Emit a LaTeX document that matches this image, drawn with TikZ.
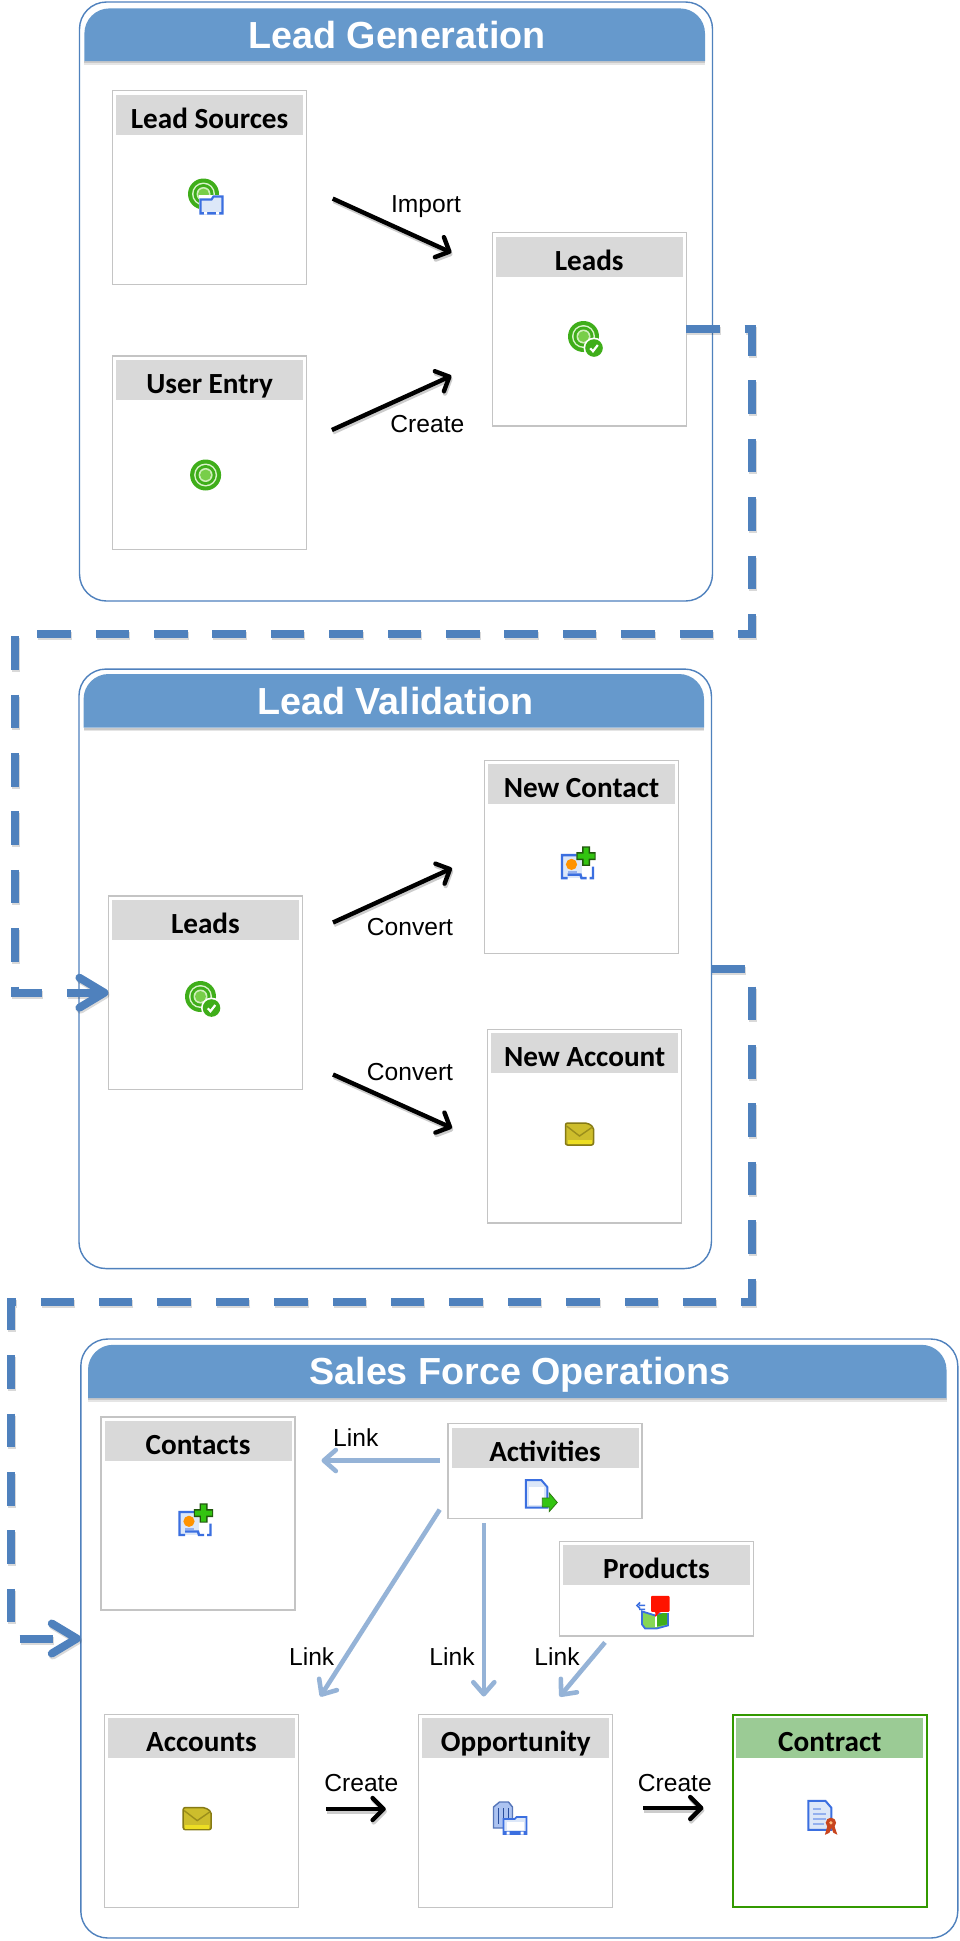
\documentclass[tikz,border=0pt]{standalone}
\usepackage{fontspec}
\setmainfont{Liberation Sans}
\newfontfamily\boxfont{Carlito}
\usetikzlibrary{arrows.meta}
\definecolor{flowblue}{HTML}{4F81BD}
\definecolor{hdrblue}{HTML}{6699CC}
\definecolor{linkblue}{HTML}{95B3D7}
\definecolor{boxgray}{HTML}{C4C4C4}
\definecolor{headgray}{HTML}{D9D9D9}
\definecolor{contractgreen}{HTML}{339900}
\definecolor{headgreen}{HTML}{9BCB95}
\definecolor{ringgreen}{HTML}{3FAE1A}
\definecolor{ringlight}{HTML}{86D655}
\definecolor{brightgreen}{HTML}{33C411}
\definecolor{iconblue}{HTML}{3B6FE0}
\definecolor{iconpale}{HTML}{DCE7F8}
\definecolor{caseyellow}{HTML}{CDBD2C}
\definecolor{casedark}{HTML}{867A14}
\definecolor{ribbonred}{HTML}{C8451E}
\tikzset{
  panelbox/.style={draw=flowblue,line width=1.4pt,fill=white,rounded corners=27pt,inner sep=0pt,outer sep=0pt},
  titletext/.style={text=white,font=\fontsize{37.7}{40}\selectfont\bfseries,inner sep=0pt,text height=27pt,text depth=0pt},
  frame/.style={draw=boxgray,line width=1.3pt,fill=white,inner sep=0pt,outer sep=0pt},
  greenframe/.style={frame,draw=contractgreen,line width=1.8pt},
  headbox/.style={fill=headgray,inner sep=0pt,outer sep=0pt,minimum width=187pt,minimum height=40pt,text=black,text height=27pt,text depth=0pt,font=\boxfont\fontsize{29.2}{30}\selectfont\bfseries},
  greenhead/.style={headbox,fill=headgreen},
  lbl/.style={font=\fontsize{24.6}{26}\selectfont,text=black,inner sep=0pt},
  blackarrow/.style={draw=black,line width=4.4pt,-{Straight Barb[length=11pt,width=22pt,round]},
    preaction={draw=black,opacity=.2,line width=4.4pt,-{Straight Barb[length=11pt,width=22pt,round]},transform canvas={xshift=1pt,yshift=-2.4pt}}},
  linkarrow/.style={draw=linkblue,line width=4.6pt,-{Straight Barb[length=12pt,width=21pt,round]}},
  flowline/.style={draw=flowblue,line width=8pt,dash pattern=on 33.5pt off 24.9pt,miter limit=10,-{Straight Barb[length=25pt,width=30pt,round]},
    preaction={draw=black,opacity=.15,line width=8pt,dash pattern=on 33.5pt off 24.9pt,transform canvas={xshift=1pt,yshift=-2pt}}},
  icontarget/.pic={
    \fill[ringgreen] (0,0) circle (15.5);
    \fill[white!70!ringlight] (0,0) circle (11.5);
    \fill[ringgreen] (0,0) circle (10);
    \fill[white!60!ringlight] (0,0) circle (7);
    \fill[ringlight!80!ringgreen] (0,0) circle (5.5);
  },
  iconfolder/.pic={
    \fill[white] (-13,-10) rectangle (13,11);
    \filldraw[fill=iconpale,draw=iconblue,line width=2.2pt] (-11,-5) -- (-11,9) -- (11,9) -- (11,-8) -- (2,-8) -- (0,-5) -- cycle;
    \fill[iconblue] (-11,7) rectangle (11,9.6);
    \fill[white] (-7.5,7.5) rectangle (-4.5,10) (4.5,7.5) rectangle (7.5,10);
  },
  iconbadge/.pic={
    \fill[white] (0,0) circle (10.5);
    \fill[ringgreen] (0,0) circle (8.8);
    \draw[white,line width=2.2pt] (-3.8,0.3) -- (-1,3.2) -- (3.8,-3);
  },
  iconcontact/.pic={
    \fill[iconpale] (-16.5,-7.5) rectangle (3,15.5);
    \draw[iconblue,line width=2.4pt] (-2,-7.5) -- (-16.5,-7.5) -- (-16.5,15.5) -- (-11,15.5) (-11,12) -- (2,12) -- (3,15.5) -- (8,15.5) (11,15.5) -- (14.5,15.5) -- (14.5,4);
    \fill[orange!85!yellow] (-7,1.8) circle (5.6);
    \fill[iconblue!55!white] (-11,8) rectangle (-2,10.5);
    \fill[ringgreen!50!black] (3.5,-16.2) rectangle (11.5,3.2) (-2.2,-10.5) rectangle (17.2,-2.5);
    \fill[brightgreen] (5,-15) rectangle (10,2) (-1,-9) rectangle (16,-4);
  },
  iconcase/.pic={
    \filldraw[fill=caseyellow,draw=casedark,line width=1.5pt,rounded corners=2pt] (-14,-11) -- (8,-11) -- (14,-7) -- (14,11) -- (-14,11) -- cycle;
    \draw[casedark!70!caseyellow,line width=1.4pt] (-13,-8) -- (0,2) -- (13,-7);
    \fill[yellow!60!caseyellow] (-12,6) rectangle (12,10);
  },
  icondoc/.pic={
    \filldraw[fill=iconpale,draw=iconblue,line width=2pt] (-15.5,-15) -- (0,-15) -- (6,-8) -- (6,12.5) -- (-15.5,12.5) -- cycle;
    \fill[white] (-12.5,-8) rectangle (3,10);
    \filldraw[fill=brightgreen,draw=ringgreen!70!black,line width=.8pt] (1,3) -- (8,3) -- (8,-2) -- (16,7.5) -- (8,16.5) -- (8,12) -- (1,12) -- cycle;
  },
  iconproduct/.pic={
    \draw[iconblue,line width=1.6pt] (-9,-7) -- (-15,-7) (-15,-3) -- (-9,-3) (-14,-10) -- (-17,-7) -- (-14,-4);
    \filldraw[fill=ringlight,draw=iconblue,line width=1.8pt] (-12,-1) -- (1,3) -- (14,-1) -- (14,13) -- (3,16) -- (-9,16) -- (-12,12) -- cycle;
    \fill[ringgreen] (3,3) -- (13,-1) -- (13,12) -- (3,14) -- cycle;
    \fill[white] (1,-1) rectangle (3,15);
    \fill[white] (-4,-2) -- (15,-2) -- (15,1) -- (-4,1) -- cycle;
    \fill[red!85!orange,rounded corners=1pt] (-3,-16.5) -- (15.5,-16.5) -- (15.5,-0.5) -- (6,-0.5) -- (1,5) -- (1.5,-0.5) -- (-3,-0.5) -- cycle;
  },
  iconbuilding/.pic={
    \filldraw[fill=iconpale!70!iconblue,draw=iconblue!60!gray,line width=1.4pt] (-16,-11) -- (-10,-16) -- (-1,-16) -- (3,-11) -- (3,10) -- (-16,10) -- cycle;
    \draw[iconblue!70!black,line width=1.4pt] (-11,-10) -- (-11,6) (-6,-10) -- (-6,6) (-1,-10) -- (-1,2);
    \filldraw[fill=iconpale,draw=iconblue,line width=1.8pt] (-6,1) -- (-6,16) -- (17,16) -- (17,-1) -- (7,-1) -- (5,1) -- cycle;
    \fill[white] (-3,4) rectangle (14,12);
    \fill[iconblue] (-6,13) rectangle (17,16);
    \fill[white] (-3,13.5) rectangle (0,16.5) (11,13.5) rectangle (14,16.5);
  },
  iconcontract/.pic={
    \filldraw[fill=iconpale,draw=iconblue,line width=2pt] (-14,-17) -- (3,-17) -- (9,-10) -- (9,12) -- (-14,12) -- cycle;
    \draw[iconblue!55!white,line width=2pt] (-9,-9) -- (-1,-9) (-9,-4) -- (4,-4) (-9,1) -- (4,1) (-9,6) -- (2,6);
    \fill[ribbonred] (8.5,5) circle (5.2);
    \fill[ribbonred] (5,8) -- (2.5,17) -- (7,15) -- (9,10) -- (11,15) -- (15,17) -- (12,8) -- cycle;
    \fill[orange!50!white] (8.5,5) circle (1.8);
  },
}
\newcommand{\headerbar}[4]{%
  \fill[black,opacity=.10] (#1,#4+3.5) rectangle (#3,#4);
  \fill[black,opacity=.12] (#1,#4+2) rectangle (#3,#4);
  \fill[hdrblue] (#1,#4) [rounded corners=25pt] -- (#1,#2) -- (#3,#2) [sharp corners] -- (#3,#4) -- cycle;
}
\begin{document}
\begin{tikzpicture}[x=1pt,y=-1pt]
\useasboundingbox (0,0) rectangle (960,1941);
\fill[white] (0,0) rectangle (960,1941);

% panels
\node[panelbox,minimum width=633pt,minimum height=599pt] (panelA) at (396,301.5) {};
\headerbar{84.4}{8.4}{705}{61}
\node[titletext] (titleA) at (397,35) {Lead Generation};

\node[panelbox,minimum width=632.5pt,minimum height=599.5pt] (panelB) at (395.2,968.8) {};
\headerbar{83.6}{674}{704}{727.6}
\node[titletext] (titleB) at (395.5,701) {Lead Validation};

\node[panelbox,minimum width=877pt,minimum height=599pt] (panelC) at (519.3,1638.5) {};
\headerbar{88}{1344.8}{946.5}{1398}
\node[titletext] (titleC) at (520,1371) {Sales Force Operations};

% Lead Generation boxes
\node[frame,minimum width=193.6pt,minimum height=193.6pt] (sources) at (209.4,187.5) {};
\node[headbox] (sourcesH) at (209.6,115) {Lead Sources};
\node[frame,minimum width=193.6pt,minimum height=193.6pt] (entry) at (209.4,452.8) {};
\node[headbox] (entryH) at (209.6,380) {User Entry};
\node[frame,minimum width=194pt,minimum height=193.3pt] (leadsA) at (589.2,329.4) {};
\node[headbox] (leadsAH) at (589.2,256.6) {Leads};

% Lead Validation boxes
\node[frame,minimum width=194pt,minimum height=193.5pt] (leadsB) at (205.4,992.7) {};
\node[headbox] (leadsBH) at (205.4,920) {Leads};
\node[frame,minimum width=194pt,minimum height=193pt] (contactNew) at (581.5,857) {};
\node[headbox] (contactNewH) at (581.5,784) {New Contact};
\node[frame,minimum width=194pt,minimum height=193.4pt] (accountNew) at (584.7,1126.3) {};
\node[headbox] (accountNewH) at (584.7,1053.4) {New Account};

% Sales Force boxes
\node[frame,minimum width=194pt,minimum height=193pt] (contacts) at (198,1513.5) {};
\node[headbox] (contactsH) at (198,1440.7) {Contacts};
\node[frame,minimum width=194pt,minimum height=95pt] (activities) at (545,1471) {};
\node[headbox] (activitiesH) at (545,1447.6) {Activities};
\node[frame,minimum width=194pt,minimum height=94.5pt] (products) at (656.5,1588.7) {};
\node[headbox] (productsH) at (656.5,1565) {Products};
\node[frame,minimum width=194pt,minimum height=192.6pt] (accounts) at (201.5,1811) {};
\node[headbox] (accountsH) at (201.5,1738.2) {Accounts};
\node[frame,minimum width=194pt,minimum height=192.6pt] (opportunity) at (515.8,1811) {};
\node[headbox] (opportunityH) at (515.8,1738.2) {Opportunity};
\node[greenframe,minimum width=194pt,minimum height=192.6pt] (contract) at (829.8,1811) {};
\node[greenhead] (contractH) at (829.8,1738.2) {Contract};

% icons
\pic at (203.5,194) {icontarget}; \pic at (211.5,204.5) {iconfolder};
\pic at (205.6,475) {icontarget};
\pic at (583.5,336.5) {icontarget}; \pic at (594,348) {iconbadge};
\pic at (200.5,996.5) {icontarget}; \pic at (211.5,1008) {iconbadge};
\pic at (578.5,862.6) {iconcontact};
\pic at (579.5,1134) {iconcase};
\pic at (196,1519.5) {iconcontact};
\pic at (197.2,1818.6) {iconcase};
\pic at (541.3,1495) {icondoc};
\pic at (654,1612.4) {iconproduct};
\pic at (509.5,1818) {iconbuilding};
\pic at (822.4,1817.8) {iconcontract};

% free connector ends
\coordinate (impS) at (332.7,198.6);   \coordinate (impE) at (451.4,252.6);
\coordinate (creS) at (331.9,430);     \coordinate (creE) at (451.4,375.8);
\coordinate (conAS) at (333,922.5);    \coordinate (conAE) at (452,868.2);
\coordinate (conBS) at (333,1074.5);   \coordinate (conBE) at (452,1128);
\coordinate (lnkCS) at (439.7,1460.5); \coordinate (lnkCE) at (321.5,1460.5);
\coordinate (lnkAS) at (439.7,1509.6); \coordinate (lnkAE) at (320.3,1696.5);
\coordinate (lnkOS) at (483.8,1523);   \coordinate (lnkOE) at (483.8,1696.5);
\coordinate (lnkPS) at (605,1642.4);   \coordinate (lnkPE) at (559.7,1696.5);
\coordinate (mkOS) at (326.4,1809);    \coordinate (mkOE) at (385.8,1809);
\coordinate (mkCS) at (643,1808);      \coordinate (mkCE) at (703.4,1808);
\coordinate (fa1) at (752,329.4);  \coordinate (fa2) at (752,633.5);
\coordinate (fa3) at (15,633.5);   \coordinate (fa4) at (15,992.7);
\coordinate (fb1) at (752,968.8);  \coordinate (fb2) at (752,1301.5);
\coordinate (fb3) at (11,1301.5);  \coordinate (fb4) at (11,1638.5);

% connectors
\draw[blackarrow] (impS) -- (impE);
\draw[blackarrow] (creS) -- (creE);
\draw[blackarrow] (conAS) -- (conAE);
\draw[blackarrow] (conBS) -- (conBE);
\draw[blackarrow] (mkOS) -- (mkOE);
\draw[blackarrow] (mkCS) -- (mkCE);
\draw[linkarrow] (lnkCS) -- (lnkCE);
\draw[linkarrow] (lnkAS) -- (lnkAE);
\draw[linkarrow] (lnkOS) -- (lnkOE);
\draw[linkarrow] (lnkPS) -- (lnkPE);
\draw[flowline] (leadsA.east) -- (fa1) -- (fa2) -- (fa3) -- (fa4) -- (leadsB.west);
\draw[flowline] (panelB.east) -- (fb1) -- (fb2) -- (fb3) -- (fb4) -- (panelC.west);

% labels
\node[lbl] (lImport) at (426,207) {Import};
\node[lbl] (lCreateA) at (427.4,423.7) {Create};
\node[lbl] (lConvA) at (410,927.5) {Convert};
\node[lbl] (lConvB) at (410,1072.5) {Convert};
\node[lbl] (lLinkC) at (355.8,1438) {Link};
\node[lbl] (lLinkA) at (311.7,1656.8) {Link};
\node[lbl] (lLinkO) at (452,1656.8) {Link};
\node[lbl] (lLinkP) at (557,1656.8) {Link};
\node[lbl] (lCreateO) at (361.3,1783.4) {Create};
\node[lbl] (lCreateC) at (674.8,1783.4) {Create};
\end{tikzpicture}
\end{document}
